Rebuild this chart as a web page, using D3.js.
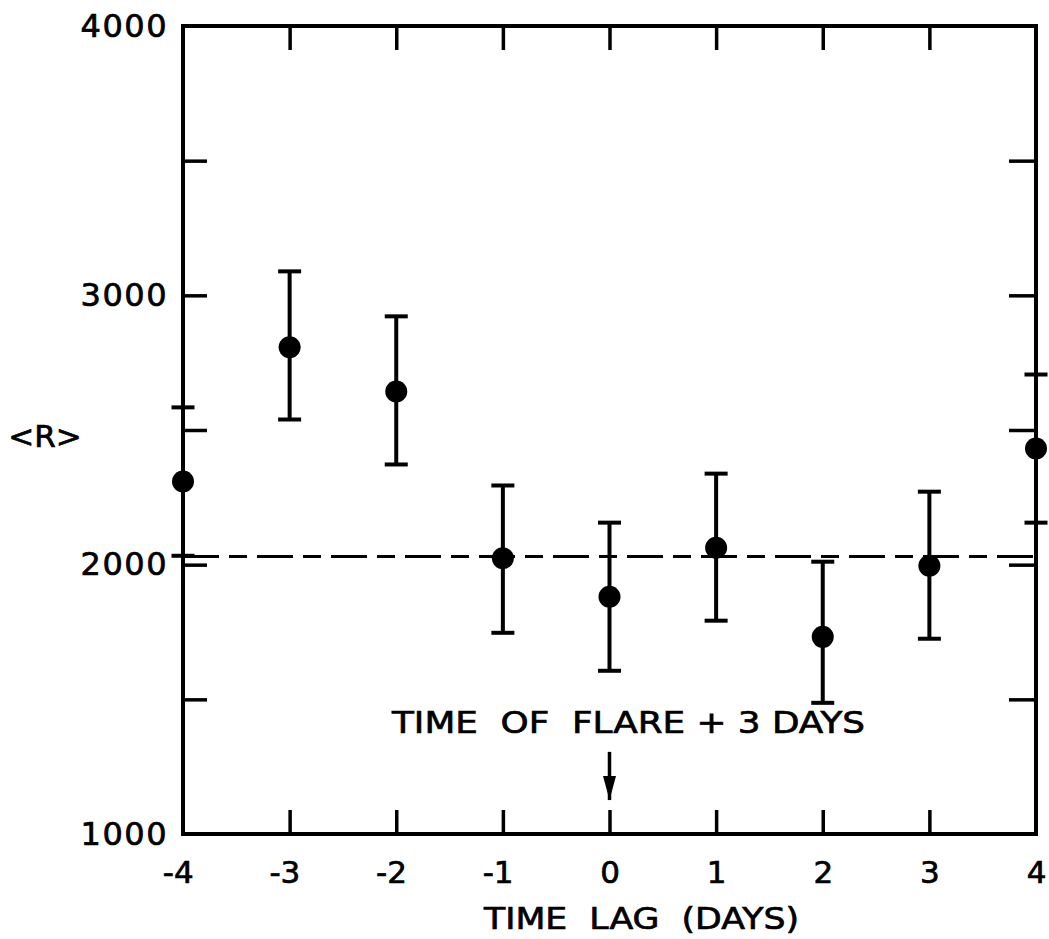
<!DOCTYPE html>
<html>
<head>
<meta charset="utf-8">
<script src="https://cdn.jsdelivr.net/npm/d3@7"></script>
<style>
  html, body { margin: 0; padding: 0; background: #fff; }
  svg { display: block; }
  text { font-family: "DejaVu Sans", sans-serif; fill: #000; stroke: #000; stroke-width: 0.7px; }
</style>
</head>
<body>
<svg id="chart" width="1049" height="939"></svg>
<script>
// ---- data ----
const lags     = [-4, -3, -2, -1, 0, 1, 2, 3, 4];
const meanR    = [2309, 2807, 2643, 2024, 1881, 2063, 1732, 1996, 2431];
const errHigh  = [2584, 3089, 2922, 2294, 2156, 2338, 2011, 2271, 2706];
const errLow   = [2033, 2539, 2372, 1747, 1606, 1792, 1487, 1725, 2156];
const xTickValues = [-4, -3, -2, -1, 0, 1, 2, 3, 4];
const xTickLabels = ["-4", "-3", "-2", "-1", "0", "1", "2", "3", "4"];
const yMajorTicks = [1000, 2000, 3000, 4000];
const yMinorTicks = [1500, 2500, 3500];
const referenceLevel = 2030;
const annotationText = "TIME  OF  FLARE + 3 DAYS";
const annotationLag = 0;
const annotationTextLevel = 1416;
const arrowTopLevel = 1305;
const arrowTipLevel = 1126;
const xTitle = "TIME  LAG  (DAYS)";
const yTitle = "<R>";

// ---- layout ----
const svg = d3.select("#chart");
const x = d3.scaleLinear().domain([-4, 4]).range([183, 1036]);
const y = d3.scaleLinear().domain([1000, 4000]).range([834, 26]);
const axisStroke = 4;

// frame
svg.append("rect")
  .attr("x", x(-4)).attr("y", y(4000))
  .attr("width", x(4) - x(-4)).attr("height", y(1000) - y(4000))
  .attr("fill", "none").attr("stroke", "#000").attr("stroke-width", axisStroke);

function styleAxis(g) {
  g.select(".domain").remove();
  g.selectAll(".tick line").attr("stroke", "#000").attr("stroke-width", 3.5);
}

// bottom axis (ticks inward)
const bottom = svg.append("g")
  .attr("transform", `translate(0,${y(1000)})`)
  .call(d3.axisBottom(x).tickValues(xTickValues)
    .tickFormat((d, i) => xTickLabels[i])
    .tickSizeInner(-24).tickSizeOuter(0).tickPadding(27))
  .call(styleAxis);
bottom.selectAll(".tick text")
  .attr("font-size", 31)
  .attr("fill", "#000").attr("stroke", "#000").attr("stroke-width", 0.7)
  .attr("dx", d => d < 0 ? "-0.17em" : 0)
  .style("font-family", "DejaVu Sans, sans-serif");
bottom.selectAll(".tick").filter(d => d === -4 || d === 4).select("line").remove();

// top axis (ticks inward, no labels)
svg.append("g")
  .attr("transform", `translate(0,${y(4000)})`)
  .call(d3.axisTop(x).tickValues(xTickValues.filter(d => d > -4 && d < 4))
    .tickFormat("").tickSizeInner(-24).tickSizeOuter(0))
  .call(styleAxis);

// left axis major
const left = svg.append("g")
  .attr("transform", `translate(${x(-4)},0)`)
  .call(d3.axisLeft(y).tickValues(yMajorTicks).tickFormat(d3.format("d"))
    .tickSizeInner(-24).tickSizeOuter(0).tickPadding(15))
  .call(styleAxis);
left.selectAll(".tick text")
  .attr("font-size", 32)
  .attr("fill", "#000").attr("stroke", "#000").attr("stroke-width", 0.7)
  .attr("letter-spacing", 1.5)
  .style("font-family", "DejaVu Sans, sans-serif");
left.selectAll(".tick").filter(d => d === 1000 || d === 4000).select("line").remove();

// left axis minor
svg.append("g")
  .attr("transform", `translate(${x(-4)},0)`)
  .call(d3.axisLeft(y).tickValues(yMinorTicks).tickFormat("")
    .tickSizeInner(-24).tickSizeOuter(0))
  .call(styleAxis);

// right axis
svg.append("g")
  .attr("transform", `translate(${x(4)},0)`)
  .call(d3.axisRight(y).tickValues(yMinorTicks.concat([2000, 3000])).tickFormat("")
    .tickSizeInner(-27).tickSizeOuter(0))
  .call(styleAxis);

// dashed reference line
svg.append("line")
  .attr("x1", x(-4)).attr("x2", x(4))
  .attr("y1", y(referenceLevel)).attr("y2", y(referenceLevel))
  .attr("stroke", "#000").attr("stroke-width", 3)
  .attr("stroke-dasharray", "36,10,18,10");

// error bars
const pts = lags.map((d, i) => ({ lag: d, v: meanR[i], hi: errHigh[i], lo: errLow[i] }));
const eb = svg.append("g");
eb.selectAll("line.bar").data(pts).join("line")
  .attr("x1", d => x(d.lag)).attr("x2", d => x(d.lag))
  .attr("y1", d => y(d.hi)).attr("y2", d => y(d.lo))
  .attr("stroke", "#000").attr("stroke-width", 4);
const capHalf = 11.5;
eb.selectAll("line.capH").data(pts).join("line")
  .attr("x1", d => x(d.lag) - capHalf).attr("x2", d => x(d.lag) + capHalf)
  .attr("y1", d => y(d.hi)).attr("y2", d => y(d.hi))
  .attr("stroke", "#000").attr("stroke-width", 4);
eb.selectAll("line.capL").data(pts).join("line")
  .attr("x1", d => x(d.lag) - capHalf).attr("x2", d => x(d.lag) + capHalf)
  .attr("y1", d => y(d.lo)).attr("y2", d => y(d.lo))
  .attr("stroke", "#000").attr("stroke-width", 4);

// points
svg.append("g").selectAll("circle").data(pts).join("circle")
  .attr("cx", d => x(d.lag)).attr("cy", d => y(d.v))
  .attr("r", 11).attr("fill", "#000");

// annotation
svg.append("text")
  .attr("x", x(annotationLag) + 19).attr("y", y(annotationTextLevel))
  .attr("text-anchor", "middle").attr("dominant-baseline", "central")
  .attr("font-size", 31)
  .attr("textLength", 473).attr("lengthAdjust", "spacingAndGlyphs")
  .style("white-space", "pre")
  .text(annotationText);

svg.append("defs").append("marker")
  .attr("id", "arrowhead").attr("viewBox", "0 0 26 14")
  .attr("refX", 26).attr("refY", 7)
  .attr("markerWidth", 26).attr("markerHeight", 13)
  .attr("markerUnits", "userSpaceOnUse").attr("orient", "auto")
  .append("path").attr("d", "M0,0 L26,7 L0,14 Z").attr("fill", "#000");
svg.append("line")
  .attr("x1", x(annotationLag)).attr("x2", x(annotationLag))
  .attr("y1", y(arrowTopLevel)).attr("y2", y(arrowTipLevel))
  .attr("stroke", "#000").attr("stroke-width", 3.5)
  .attr("marker-end", "url(#arrowhead)");

// axis titles
svg.append("text")
  .attr("x", (x(-4) + x(4)) / 2 + 32).attr("y", 918)
  .attr("text-anchor", "middle").attr("dominant-baseline", "central")
  .attr("font-size", 31)
  .attr("textLength", 315).attr("lengthAdjust", "spacingAndGlyphs")
  .style("white-space", "pre")
  .text(xTitle);

svg.append("text")
  .attr("x", 45).attr("y", 436)
  .attr("text-anchor", "middle").attr("dominant-baseline", "central")
  .attr("font-size", 31)
  .text(yTitle);
</script>
</body>
</html>
